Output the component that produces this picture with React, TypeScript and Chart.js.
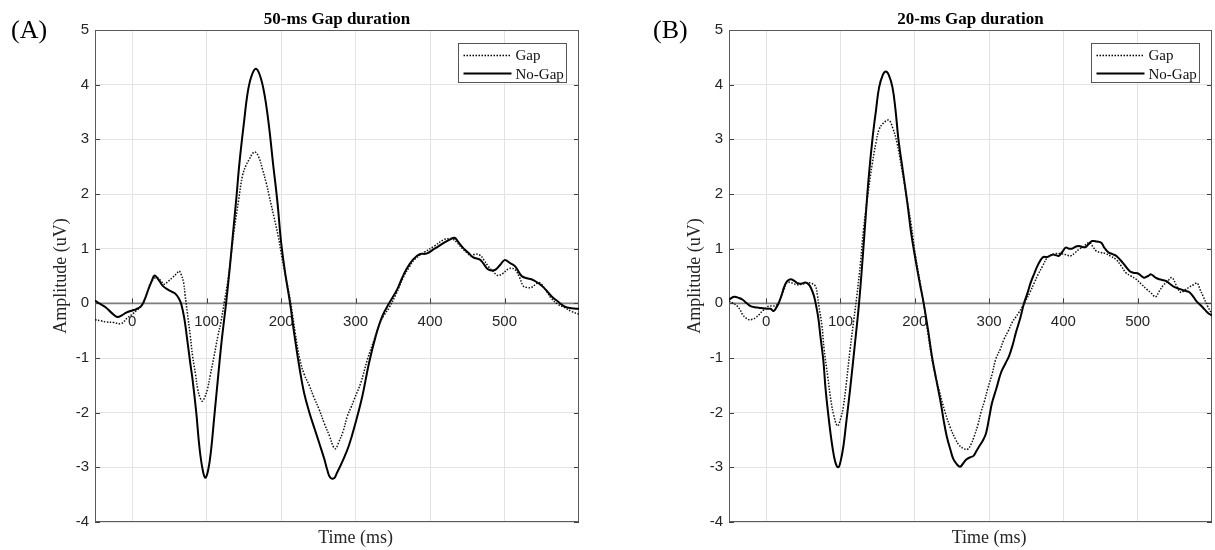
import React, { useEffect, useRef } from "react";
import { Chart, registerables } from "chart.js";

Chart.register(...registerables);

// ---------- axes ----------
const xTicks = [0, 100, 200, 300, 400, 500];
const yTicks = [-4, -3, -2, -1, 0, 1, 2, 3, 4, 5];
const xMin = -50;
const xMax = 600;
const yMin = -4;
const yMax = 5;
const xTitle = "Time (ms)";
const yTitle = "Amplitude (uV)";
const seriesNames = ["Gap", "No-Gap"];

// ---------- panel A: 50-ms gap ----------
const aGapT = [-50, -42, -35, -25, -15, -6, 0, 5, 10, 14, 20, 25, 32, 38, 43, 48, 54, 60, 63, 66, 69, 71, 74, 78, 81, 85, 88, 91, 94, 97, 101, 105, 110, 115, 119, 124, 128, 133, 137, 143, 148, 153, 157, 161, 165, 170, 175, 180, 184, 190, 196, 200, 204, 209, 213, 219, 225, 231, 238, 244, 251, 258, 265, 270, 273, 277, 283, 289, 294, 298, 307, 316, 325, 333, 339, 345, 354, 365, 372, 379, 392, 406, 419, 425, 430, 437, 444, 450, 455, 461, 467, 472, 478, 485, 491, 498, 505, 510, 514, 520, 525, 530, 536, 542, 547, 555, 563, 572, 581, 590, 600];
const aGapV = [-0.30, -0.32, -0.34, -0.35, -0.37, -0.26, -0.2, -0.14, -0.08, -0.02, 0.2, 0.38, 0.47, 0.42, 0.35, 0.4, 0.47, 0.55, 0.59, 0.52, 0.38, 0.15, -0.17, -0.6, -0.96, -1.3, -1.57, -1.72, -1.79, -1.73, -1.57, -1.3, -0.96, -0.6, -0.35, 0.05, 0.38, 0.9, 1.35, 1.9, 2.33, 2.53, 2.63, 2.73, 2.77, 2.67, 2.45, 2.2, 1.96, 1.6, 1.23, 0.92, 0.62, 0.3, 0, -0.55, -1.02, -1.3, -1.51, -1.72, -1.94, -2.2, -2.43, -2.62, -2.66, -2.55, -2.35, -2.06, -1.9, -1.76, -1.45, -1.02, -0.66, -0.35, -0.2, -0.08, 0.16, 0.5, 0.66, 0.8, 0.93, 1.05, 1.17, 1.18, 1.18, 1.1, 0.99, 0.92, 0.87, 0.9, 0.88, 0.8, 0.68, 0.58, 0.51, 0.55, 0.63, 0.64, 0.62, 0.48, 0.32, 0.29, 0.29, 0.35, 0.38, 0.25, 0.09, -0.02, -0.08, -0.15, -0.2];

const aNoGapT = [-50, -42, -35, -28, -20, -14, -8, 0, 5, 12, 17, 21, 26, 30, 35, 41, 48, 55, 59, 63, 66, 70, 74, 78, 81, 86, 90, 94, 98, 102, 106, 110, 115, 120, 126, 131, 135, 140, 144, 150, 155, 160, 166, 172, 178, 184, 189, 195, 200, 206, 212, 218, 225, 231, 238, 245, 251, 258, 262, 266, 271, 275, 282, 291, 300, 309, 318, 327, 336, 345, 356, 362, 368, 377, 386, 395, 406, 419, 427, 433, 438, 444, 451, 458, 467, 472, 478, 487, 494, 500, 507, 514, 523, 530, 536, 543, 550, 556, 563, 572, 581, 590, 600];
const aNoGapV = [0.05, -0.02, -0.08, -0.17, -0.25, -0.22, -0.17, -0.13, -0.11, -0.05, 0.08, 0.23, 0.4, 0.51, 0.44, 0.32, 0.25, 0.2, 0.16, 0.08, -0.02, -0.28, -0.68, -1.1, -1.39, -2.0, -2.6, -3.0, -3.19, -3.05, -2.67, -2.1, -1.39, -0.7, 0, 0.65, 1.23, 1.95, 2.57, 3.3, 3.85, 4.15, 4.29, 4.15, 3.79, 3.2, 2.57, 1.85, 1.11, 0.5, 0, -0.6, -1.21, -1.65, -2.0, -2.3, -2.55, -2.85, -3.05, -3.19, -3.2, -3.1, -2.9, -2.6, -2.18, -1.7, -1.09, -0.6, -0.23, 0, 0.26, 0.45, 0.62, 0.8, 0.9, 0.91, 1.0, 1.11, 1.17, 1.2, 1.12, 1.02, 0.93, 0.84, 0.8, 0.72, 0.62, 0.61, 0.7, 0.79, 0.74, 0.68, 0.5, 0.46, 0.44, 0.39, 0.32, 0.24, 0.13, 0.03, -0.06, -0.09, -0.1];

// ---------- panel B: 20-ms gap ----------
const bGapT = [-50, -44, -39, -35, -32, -27, -23, -18, -14, -9, -5, 0, 4, 9, 13, 16, 19, 24, 28, 33, 37, 42, 48, 54, 60, 66, 69, 71, 75, 78, 83, 87, 91, 96, 100, 104, 108, 113, 118, 122, 127, 131, 137, 143, 148, 152, 158, 165, 170, 176, 182, 188, 195, 201, 207, 212, 218, 225, 233, 241, 248, 255, 260, 266, 271, 276, 280, 285, 289, 294, 298, 304, 309, 315, 320, 326, 331, 336, 340, 345, 349, 355, 361, 366, 372, 379, 385, 390, 396, 401, 405, 410, 416, 421, 428, 435, 440, 444, 450, 457, 464, 471, 478, 484, 491, 498, 505, 512, 518, 524, 529, 534, 540, 546, 552, 558, 564, 570, 575, 580, 584, 588, 594, 600];
const bGapV = [0.04, 0.0, -0.05, -0.12, -0.2, -0.27, -0.3, -0.29, -0.26, -0.2, -0.14, -0.08, -0.05, -0.05, -0.04, 0.0, 0.07, 0.25, 0.38, 0.38, 0.36, 0.34, 0.35, 0.37, 0.37, 0.32, 0.15, -0.05, -0.4, -0.84, -1.35, -1.76, -2.05, -2.24, -2.12, -1.88, -1.45, -0.84, -0.3, 0.13, 0.75, 1.35, 2.0, 2.57, 2.95, 3.18, 3.3, 3.35, 3.22, 2.94, 2.5, 2.02, 1.45, 0.87, 0.4, 0, -0.58, -1.15, -1.6, -2.0, -2.28, -2.49, -2.6, -2.66, -2.67, -2.57, -2.43, -2.22, -2.0, -1.78, -1.57, -1.3, -1.02, -0.84, -0.66, -0.5, -0.35, -0.25, -0.17, -0.06, 0.04, 0.2, 0.38, 0.53, 0.68, 0.85, 0.89, 0.91, 0.91, 0.9, 0.88, 0.87, 0.93, 0.99, 1.05, 1.11, 1.03, 0.96, 0.93, 0.91, 0.86, 0.8, 0.68, 0.56, 0.5, 0.44, 0.35, 0.26, 0.19, 0.12, 0.22, 0.32, 0.4, 0.47, 0.33, 0.2, 0.25, 0.3, 0.34, 0.37, 0.25, 0.13, -0.05, -0.2];

const bNoGapT = [-50, -43, -37, -32, -26, -21, -15, -10, 1, 6, 10, 14, 17, 21, 24, 28, 33, 38, 42, 47, 53, 57, 60, 64, 66, 70, 73, 77, 80, 85, 89, 93, 97, 100, 104, 108, 113, 119, 125, 130, 134, 138, 143, 148, 152, 157, 161, 165, 170, 174, 178, 184, 190, 195, 201, 207, 212, 218, 223, 229, 235, 239, 243, 248, 252, 257, 261, 265, 269, 274, 279, 283, 287, 292, 296, 300, 304, 310, 316, 322, 327, 332, 336, 342, 347, 352, 356, 361, 365, 372, 379, 385, 390, 394, 399, 403, 408, 412, 417, 421, 426, 430, 435, 439, 445, 451, 455, 460, 466, 471, 480, 489, 494, 500, 505, 509, 514, 518, 524, 529, 538, 544, 549, 555, 561, 566, 570, 575, 579, 585, 590, 595, 600];
const bNoGapV = [0.07, 0.12, 0.1, 0.07, 0.0, -0.05, -0.07, -0.08, -0.1, -0.1, -0.14, -0.07, 0.01, 0.16, 0.29, 0.4, 0.44, 0.41, 0.37, 0.36, 0.38, 0.35, 0.29, 0.15, 0.04, -0.25, -0.6, -1.05, -1.57, -2.2, -2.61, -2.9, -3.0, -2.9, -2.61, -2.15, -1.57, -0.8, 0, 0.85, 1.6, 2.3, 3.0, 3.55, 3.95, 4.18, 4.24, 4.18, 3.95, 3.55, 3.0, 2.42, 1.84, 1.3, 0.8, 0.35, 0, -0.5, -0.96, -1.4, -1.82, -2.15, -2.43, -2.68, -2.85, -2.95, -2.99, -2.93, -2.86, -2.82, -2.79, -2.7, -2.61, -2.5, -2.37, -2.1, -1.82, -1.55, -1.27, -1.1, -0.96, -0.75, -0.54, -0.27, 0, 0.2, 0.38, 0.55, 0.68, 0.84, 0.85, 0.89, 0.88, 0.87, 0.95, 1.02, 1.0, 1.0, 1.04, 1.05, 1.03, 1.03, 1.1, 1.14, 1.13, 1.11, 1.02, 0.94, 0.9, 0.87, 0.74, 0.59, 0.56, 0.55, 0.5, 0.47, 0.5, 0.53, 0.47, 0.44, 0.41, 0.35, 0.3, 0.27, 0.24, 0.22, 0.2, 0.12, 0.04, -0.04, -0.11, -0.18, -0.22];

const SERIF = '"Liberation Serif", "Times New Roman", serif';
const SANS = '"Liberation Sans", Arial, sans-serif';

function pts(t: number[], v: number[]) {
  return t.map((x, i) => ({ x, y: v[i] }));
}

type PanelProps = {
  canvasLeft: number;
  canvasWidth: number;
  areaLeft: number;
  areaRight: number;
  label: string;
  labelX: number;
  title: string;
  gapT: number[];
  gapV: number[];
  noT: number[];
  noV: number[];
};

function Panel(p: PanelProps) {
  const ref = useRef<HTMLCanvasElement | null>(null);
  useEffect(() => {
    if (!ref.current) return;
    const deco = {
      id: "deco",
      beforeDatasetsDraw(chart: any) {
        const { ctx, chartArea: a, scales } = chart;
        const x = scales.x;
        const y = scales.y;
        const y0 = y.getPixelForValue(0);
        ctx.save();
        // zero axis line
        ctx.strokeStyle = "#7e7e7e";
        ctx.lineWidth = 1.6;
        ctx.beginPath();
        ctx.moveTo(a.left, y0);
        ctx.lineTo(a.right, y0);
        ctx.stroke();
        // tick marks
        ctx.strokeStyle = "#404040";
        ctx.lineWidth = 1;
        ctx.beginPath();
        for (const t of xTicks) {
          const px = Math.round(x.getPixelForValue(t)) + 0.5;
          ctx.moveTo(px, y0);
          ctx.lineTo(px, y0 - 5);
        }
        for (const v of yTicks) {
          const py = Math.round(y.getPixelForValue(v)) + 0.5;
          ctx.moveTo(a.left, py);
          ctx.lineTo(a.left + 5, py);
          ctx.moveTo(a.right, py);
          ctx.lineTo(a.right - 5, py);
        }
        ctx.stroke();
        // x tick labels sitting under the zero line
        ctx.fillStyle = "#262626";
        ctx.font = `15px ${SANS}`;
        ctx.textAlign = "center";
        ctx.textBaseline = "alphabetic";
        for (const t of xTicks) {
          ctx.fillText(String(t), x.getPixelForValue(t), y0 + 23);
        }
        // box
        ctx.strokeStyle = "#5a5a5a";
        ctx.lineWidth = 1;
        ctx.strokeRect(Math.round(a.left) + 0.5, Math.round(a.top) + 0.5, Math.round(a.width) - 1, Math.round(a.height) - 1);
        ctx.restore();
      },
      afterDraw(chart: any) {
        const { ctx, chartArea: a, scales } = chart;
        const x = scales.x;
        ctx.save();
        // title
        ctx.fillStyle = "#000";
        ctx.font = `bold 17px ${SERIF}`;
        ctx.textAlign = "center";
        ctx.textBaseline = "alphabetic";
        ctx.fillText(p.title, (a.left + a.right) / 2, 24);
        // panel label
        ctx.font = `26px ${SERIF}`;
        ctx.textAlign = "left";
        ctx.fillText(p.label, p.labelX, 38);
        // x title
        ctx.fillStyle = "#262626";
        ctx.font = `18px ${SERIF}`;
        ctx.textAlign = "center";
        ctx.fillText(xTitle, x.getPixelForValue(300), 543);
        // y title
        ctx.save();
        ctx.translate(a.left - 34, (a.top + a.bottom) / 2);
        ctx.rotate(-Math.PI / 2);
        ctx.textBaseline = "middle";
        ctx.fillText(yTitle, 0, 0);
        ctx.restore();
        // legend
        const bw = 108;
        const bh = 39;
        const bx = Math.round(a.right - 13 - bw) + 0.5;
        const by = 43.5;
        ctx.fillStyle = "#fff";
        ctx.fillRect(bx, by, bw, bh);
        ctx.strokeStyle = "#555";
        ctx.lineWidth = 1;
        ctx.strokeRect(bx, by, bw, bh);
        ctx.strokeStyle = "#000";
        ctx.lineWidth = 1.5;
        ctx.setLineDash([1.5, 1.5]);
        ctx.beginPath();
        ctx.moveTo(bx + 5, by + 12);
        ctx.lineTo(bx + 53, by + 12);
        ctx.stroke();
        ctx.setLineDash([]);
        ctx.lineWidth = 2;
        ctx.beginPath();
        ctx.moveTo(bx + 5, by + 30);
        ctx.lineTo(bx + 53, by + 30);
        ctx.stroke();
        ctx.fillStyle = "#111";
        ctx.font = `15px ${SERIF}`;
        ctx.textAlign = "left";
        ctx.fillText(seriesNames[0], bx + 57, by + 16.5);
        ctx.fillText(seriesNames[1], bx + 57, by + 35);
        ctx.restore();
      },
    };

    const chart = new Chart(ref.current, {
      type: "line",
      data: {
        datasets: [
          {
            label: seriesNames[0],
            data: pts(p.gapT, p.gapV),
            borderColor: "#111",
            borderWidth: 1.5,
            borderDash: [1.5, 1.5],
            pointRadius: 0,
            tension: 0.4,
            fill: false,
          },
          {
            label: seriesNames[1],
            data: pts(p.noT, p.noV),
            borderColor: "#000",
            borderWidth: 2,
            pointRadius: 0,
            tension: 0.4,
            fill: false,
          },
        ],
      },
      options: {
        animation: false,
        responsive: false,
        maintainAspectRatio: false,
        devicePixelRatio: 1,
        layout: { padding: { left: 0, right: p.canvasWidth - p.areaRight, top: 30, bottom: 0 } },
        plugins: { legend: { display: false }, tooltip: { enabled: false }, title: { display: false } },
        scales: {
          x: {
            type: "linear",
            min: xMin,
            max: xMax,
            afterBuildTicks: (s: any) => {
              s.ticks = xTicks.map((v) => ({ value: v }));
            },
            ticks: { display: false },
            grid: { color: "#e3e3e3", lineWidth: 1, drawTicks: false },
            border: { display: false },
            afterFit: (s: any) => {
              s.height = 28;
            },
          },
          y: {
            type: "linear",
            min: yMin,
            max: yMax,
            afterBuildTicks: (s: any) => {
              s.ticks = yTicks.map((v) => ({ value: v }));
            },
            ticks: { color: "#262626", font: { family: SANS, size: 15 }, padding: 6 },
            grid: { color: "#e3e3e3", lineWidth: 1, drawTicks: false },
            border: { display: false },
            afterFit: (s: any) => {
              s.width = p.areaLeft;
            },
          },
        },
      },
      plugins: [deco],
    } as any);
    return () => chart.destroy();
  }, []);

  return (
    <canvas
      ref={ref}
      width={p.canvasWidth}
      height={550}
      style={{ position: "absolute", left: p.canvasLeft, top: 0, width: p.canvasWidth, height: 550 }}
    />
  );
}

export default function App() {
  return (
    <div style={{ position: "fixed", left: 0, top: 0, width: 1215, height: 550, background: "#fff", overflow: "hidden" }}>
      <Panel
        canvasLeft={0}
        canvasWidth={607}
        areaLeft={95}
        areaRight={579}
        label="(A)"
        labelX={11}
        title="50-ms Gap duration"
        gapT={aGapT}
        gapV={aGapV}
        noT={aNoGapT}
        noV={aNoGapV}
      />
      <Panel
        canvasLeft={607}
        canvasWidth={608}
        areaLeft={122}
        areaRight={605}
        label="(B)"
        labelX={46}
        title="20-ms Gap duration"
        gapT={bGapT}
        gapV={bGapV}
        noT={bNoGapT}
        noV={bNoGapV}
      />
    </div>
  );
}
